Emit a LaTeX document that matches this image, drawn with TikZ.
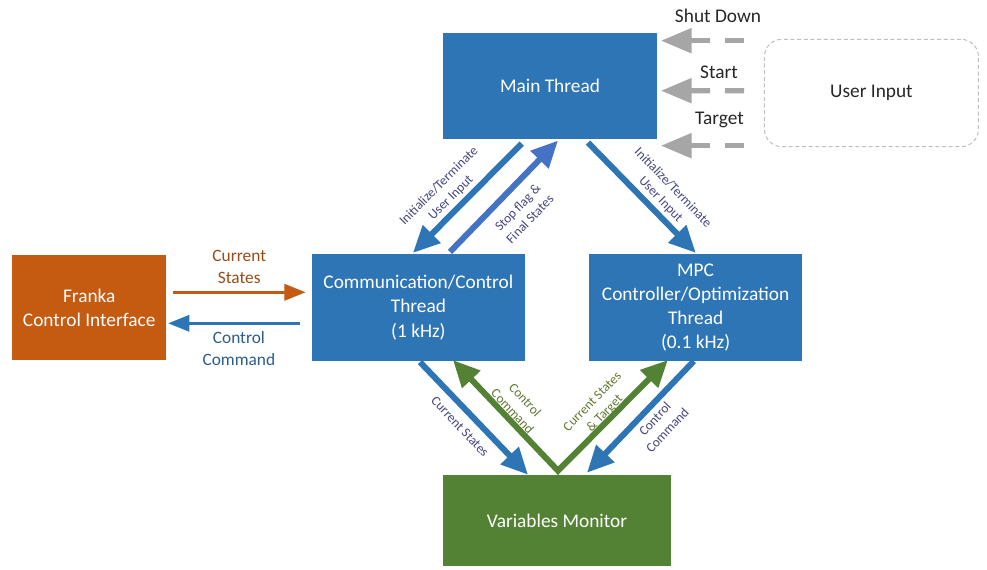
\documentclass[tikz,border=0pt]{standalone}
\usepackage{fontspec}
\setmainfont{Carlito}
\usepackage{tikz}
\usetikzlibrary{arrows.meta,positioning,calc}

\definecolor{threadblue}{HTML}{2E75B6}
\definecolor{flagblue}{HTML}{4472C4}
\definecolor{frankaorange}{HTML}{C55A11}
\definecolor{monitorgreen}{HTML}{548235}
\definecolor{inputgray}{HTML}{A6A6A6}
\definecolor{dashgray}{HTML}{BFBFBF}
\definecolor{notepurple}{HTML}{44457F}
\definecolor{noteolive}{HTML}{607830}
\definecolor{notebrown}{HTML}{9A4A16}
\definecolor{notenavy}{HTML}{2B5C8C}

\begin{document}
\begin{tikzpicture}[
    x=0.75pt, y=-0.75pt,
    box/.style={rectangle, draw=none, text=white, align=center, inner sep=2pt, font=\fontsize{14.5}{18.2}\selectfont},
    thread/.style={box, fill=threadblue, minimum width=160pt, minimum height=80pt},
    franka/.style={box, fill=frankaorange, minimum width=115.5pt, minimum height=78.75pt},
    monitor/.style={box, fill=monitorgreen, minimum width=171pt, minimum height=68.25pt},
    userbox/.style={rectangle, draw=dashgray, dash pattern=on 3pt off 2pt, line width=0.75pt, rounded corners=13pt, minimum width=160.5pt, minimum height=80.5pt, font=\fontsize{14.5}{18.2}\selectfont, text=black!85},
    arrow/.style={-{Triangle[length=20pt, width=18pt]}, line width=4.5pt, draw=threadblue},
    flagarrow/.style={arrow, draw=flagblue},
    sidearrow/.style={-{Triangle[length=16pt, width=12pt]}, line width=2.6pt},
    inputarrow/.style={-{Triangle[length=23pt, width=18pt]}, line width=4pt, draw=inputgray, dash pattern=on 14.5pt off 11pt},
    note/.style={align=center, inner sep=1pt, font=\fontsize{10}{12.7}\selectfont, text=notepurple},
    sidenote/.style={align=center, inner sep=2pt, font=\fontsize{13}{16.5}\selectfont},
    cmd/.style={font=\fontsize{14.5}{18.2}\selectfont, text=black!85, inner sep=0pt}
]
    \useasboundingbox (0,0) rectangle (987,570);

    \node[thread] (main) at (550,86) {Main Thread};
    \node[thread] (comm) at (418.4,307.5) {Communication/Control\\Thread\\(1 kHz)};
    \node[thread, right=47.5pt of comm] (mpc) {MPC\\Controller/Optimization\\Thread\\(0.1 kHz)};
    \node[franka, left=108.75pt of comm] (franka) {Franka\\Control Interface};
    \node[monitor] (monitor) at (557,520.5) {Variables Monitor};
    \node[userbox, right=80.25pt of main, yshift=-5.25pt] (user) {User Input};

    \draw[arrow] ($(main.south)+(-28.3,4)$) -- ($(comm.north)+(-5.4,-1)$);
    \draw[flagarrow] ($(comm.north)+(31.6,-2)$) -- ($(main.south)+(8,1)$);
    \draw[arrow] ($(main.south)+(38,3)$) -- ($(mpc.north)+(0.2,-1)$);
    \draw[arrow] ($(comm.south)+(1.6,1)$) -- ($(monitor.north)+(-29,0)$);
    \draw[arrow] ($(mpc.south)+(-1.8,0)$) -- ($(monitor.north)+(30,-2)$);
    \draw[arrow, draw=monitorgreen, {Triangle[length=20pt, width=18pt]}-{Triangle[length=20pt, width=18pt]}] ($(comm.south)+(34.6,-1)$) -- ($(monitor.north)+(1,-4)$) -- ($(mpc.south)+(-27.8,-1)$);

    \draw[sidearrow, draw=frankaorange] ($(franka.east)+(6.3,-15.2)$) -- node[sidenote, above=3pt, text=notebrown] (curlbl) {Current\\States} ($(comm.west)+(-5.7,-15.2)$);
    \draw[sidearrow, draw=threadblue] ($(comm.west)+(-11.7,15.8)$) -- node[sidenote, below=3pt, xshift=3.75pt, text=notenavy] (cmdlbl) {Control\\Command} ($(franka.east)+(1.6,15.8)$);

    \draw[inputarrow] ($(user.west)+(-19.7,-52.3)$) -- ($(main.east)+(4,-45.3)$);
    \draw[inputarrow] ($(user.west)+(-19.7,-2.3)$) -- ($(main.east)+(4,4.7)$);
    \draw[inputarrow] ($(user.west)+(-19.7,52.7)$) -- ($(main.east)+(4,59.7)$);

    \node[cmd, anchor=base] (shutdown) at (718,22.7) {Shut Down};
    \node[cmd, anchor=base] (start) at (719,78.3) {Start};
    \node[cmd, anchor=base] (target) at (719.5,124.3) {Target};

    \node[note, rotate=45] (initleft) at (445,192) {Initialize/Terminate\\User Input};
    \node[note, rotate=46] (stopflag) at (523.7,213.3) {Stop flag \&\\Final States};
    \node[note, rotate=-46] (initright) at (666.7,193.7) {Initialize/Terminate\\User Input};
    \node[note, rotate=-46.5] (curstates) at (460,426.7) {Current States};
    \node[note, rotate=-47, text=noteolive] (ctrlleft) at (519,405.5) {Control\\Command};
    \node[note, rotate=46, text=noteolive] (curtarget) at (599,408) {Current States\\\& Target};
    \node[note, rotate=47] (ctrlright) at (661,424.5) {Control\\Command};
\end{tikzpicture}
\end{document}
